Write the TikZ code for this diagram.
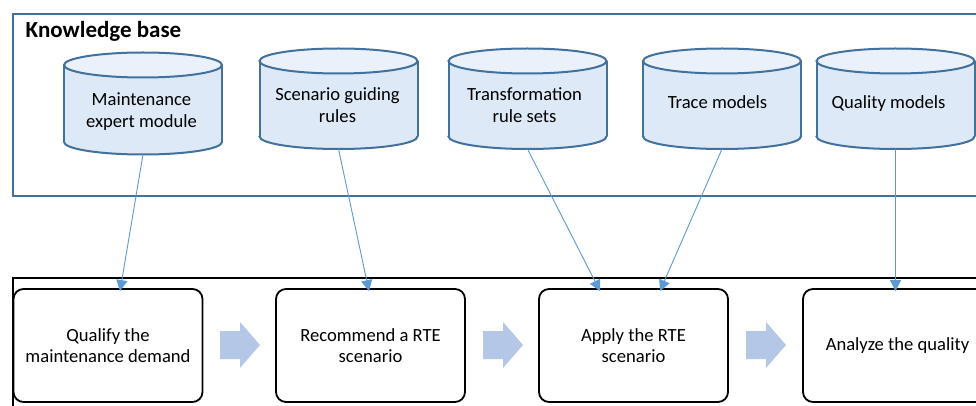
\documentclass[tikz,border=0pt]{standalone}
\usepackage{fontspec}
\setmainfont{Carlito}
\usetikzlibrary{arrows.meta}
\definecolor{kbline}{RGB}{65,113,156}
\definecolor{cylfill}{RGB}{221,233,246}
\definecolor{cyltopfill}{RGB}{234,241,250}
\definecolor{conn}{RGB}{91,155,213}
\definecolor{blockarr}{RGB}{180,199,231}
\newcommand{\dbcyl}[7]{%
  \fill[cylfill] (#2,#4) ellipse [x radius=79pt, y radius=12.5pt];
  \draw[cylline] (#2,#4) ellipse [x radius=79pt, y radius=12.5pt];
  \fill[cylfill] (#2-79,#3) rectangle (#2+79,#4);
  \draw[cylline] (#2-79,#3) -- (#2-79,#4) (#2+79,#3) -- (#2+79,#4);
  \filldraw[fill=cyltopfill, cylline] (#2,#3) ellipse [x radius=79pt, y radius=12.5pt];
  \node[cyltext] (#1) at (#5,#6) {#7};
  \coordinate (#1b) at (#2,#4+12.5);
}
\newcommand{\flowarrow}[1]{%
  \fill[blockarr] (#1,331) -- (#1+20,331) -- (#1+20,322) -- (#1+40,345)
    -- (#1+20,368) -- (#1+20,359) -- (#1,359) -- cycle;
}
\begin{document}
\begin{tikzpicture}[x=1pt,y=-1pt,
  kbframe/.style={draw=kbline, line width=2pt},
  cylline/.style={draw=kbline, line width=2pt},
  cyltext/.style={font=\fontsize{18.6}{22}\selectfont, align=center, inner sep=0pt, anchor=base},
  procbox/.style={draw=black, line width=1.8pt, rounded corners=10pt,
    minimum width=189pt, minimum height=113pt, align=center,
    font=\fontsize{18.6}{21.5}\selectfont, inner sep=0pt},
  feed/.style={draw=conn, line width=0.9pt, -{Triangle[length=11pt,width=11pt]}},
]
\useasboundingbox (0,0) rectangle (976,406);
\clip (0,0) rectangle (976,406);
\fill[white] (0,0) rectangle (976,406);

% knowledge base frame
\draw[kbframe] (13,14) rectangle (1000,195.5);
\node[font=\fontsize{23}{27}\selectfont\bfseries, anchor=base west, inner sep=0pt] (kbtitle) at (25.5,37.7) {Knowledge base};

% cylinders (last argument's y = baseline of the last line)
\dbcyl{c1}{143}{65}{142}{141.5}{127.7}{Maintenance\\expert module}
\dbcyl{c2}{338.5}{61}{136.5}{337.5}{122.3}{Scenario guiding\\rules}
\dbcyl{c3}{527.5}{61}{136.5}{524.5}{122.3}{Transformation\\rule sets}
\dbcyl{c4}{722}{61}{136.5}{717.5}{108.3}{Trace models}
\dbcyl{c5}{895.5}{61}{136.5}{888.5}{108.3}{Quality models}

% process frame
\draw[black, line width=1.2pt] (13,420) -- (13,278) -- (1000,278);

% process boxes
\node[procbox] (p1) at (108,345.5) {Qualify the\\maintenance demand};
\node[procbox] (p2) at (370.5,345.5) {Recommend a RTE\\scenario};
\node[procbox] (p3) at (633.5,345.5) {Apply the RTE\\scenario};
\node[procbox] (p4) at (897.5,345.5) {Analyze the quality};

% flow arrows
\flowarrow{220}
\flowarrow{483}
\flowarrow{746}

% connector end points
\coordinate (t1) at ([xshift=12pt,yshift=-3pt]p1.north);
\coordinate (t2) at ([xshift=-1.5pt,yshift=-3pt]p2.north);
\coordinate (t3) at ([xshift=-33.5pt,yshift=-3pt]p3.north);
\coordinate (t4) at ([xshift=26.5pt,yshift=-3pt]p3.north);
\coordinate (t5) at ([xshift=-2pt,yshift=-3pt]p4.north);

\draw[feed] (c1b) -- (t1);
\draw[feed] (c2b) -- (t2);
\draw[feed] (c3b) -- (t3);
\draw[feed] (c4b) -- (t4);
\draw[feed] (c5b) -- (t5);
\end{tikzpicture}
\end{document}
